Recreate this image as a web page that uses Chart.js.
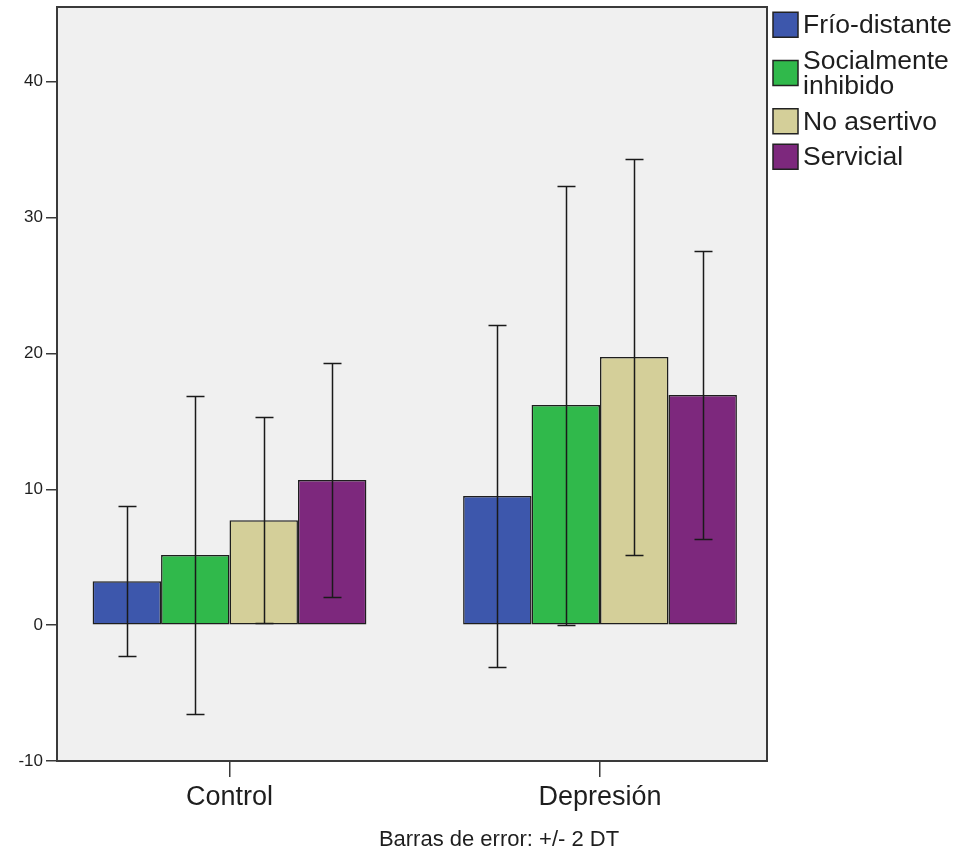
<!DOCTYPE html>
<html>
<head>
<meta charset="utf-8">
<script src="https://cdn.jsdelivr.net/npm/chart.js@4.4.1/dist/chart.umd.min.js"></script>
<style>
  html, body { margin: 0; padding: 0; background: #fff; }
  #wrap { width: 969px; height: 853px; }
</style>
</head>
<body>
<div id="wrap"><canvas id="chart"></canvas></div>
<script>
// groups on the x axis
const groups = ["Control", "Depresión"];

// group means per style
const frioDistante = [3.24, 9.5];
const socialmenteInhibido = [5.16, 16.2];
const noAsertivo = [7.73, 19.74];
const servicial = [10.68, 16.94];

// error bar half widths (2 DT)
const frioDistanteErr = [5.52, 12.6];
const socialmenteInhibidoErr = [11.72, 16.16];
const noAsertivoErr = [7.58, 14.6];
const servicialErr = [8.62, 10.6];

const yTicks = [-10, 0, 10, 20, 30, 40];

const series = [
  { label: "Frío-distante", lines: ["Frío-distante"], data: frioDistante, err: frioDistanteErr, color: "#3D57AC" },
  { label: "Socialmente inhibido", lines: ["Socialmente", "inhibido"], data: socialmenteInhibido, err: socialmenteInhibidoErr, color: "#30B94B" },
  { label: "No asertivo", lines: ["No asertivo"], data: noAsertivo, err: noAsertivoErr, color: "#D4CF99" },
  { label: "Servicial", lines: ["Servicial"], data: servicial, err: servicialErr, color: "#7D287D" },
];

const FONT = "'Liberation Sans', Arial, sans-serif";

// grey plot panel behind the bars, frame on top
const panel = {
  id: "panel",
  beforeDatasetsDraw(chart) {
    const { ctx, chartArea: a } = chart;
    ctx.save();
    ctx.fillStyle = "#F0F0F0";
    ctx.fillRect(a.left, a.top, a.right - a.left, a.bottom - a.top);
    ctx.restore();
  },
  afterDraw(chart) {
    const { ctx, chartArea: a } = chart;
    ctx.save();
    ctx.strokeStyle = "#3A3A3A";
    ctx.lineWidth = 2;
    ctx.strokeRect(a.left, a.top, a.right - a.left, a.bottom - a.top);
    ctx.restore();
  }
};

// +/- 2 DT whiskers
const errorBars = {
  id: "errorBars",
  afterDatasetsDraw(chart) {
    const { ctx } = chart;
    const y = chart.scales.y;
    ctx.save();
    ctx.strokeStyle = "#1A1A1A";
    ctx.lineWidth = 1.5;
    chart.data.datasets.forEach((ds, i) => {
      chart.getDatasetMeta(i).data.forEach((bar, j) => {
        const m = ds.data[j].y;
        const e = ds.err[j];
        const top = Math.round(y.getPixelForValue(m + e)) + 0.5;
        const bot = Math.round(y.getPixelForValue(m - e)) + 0.5;
        const x = Math.round(bar.x) + 0.5;
        ctx.beginPath();
        ctx.moveTo(x, top); ctx.lineTo(x, bot);
        ctx.moveTo(x - 9, top); ctx.lineTo(x + 9, top);
        ctx.moveTo(x - 9, bot); ctx.lineTo(x + 9, bot);
        ctx.stroke();
      });
    });
    ctx.restore();
  }
};

// legend to the right of the panel, with a wrapped label
const sideLegend = {
  id: "sideLegend",
  afterDraw(chart) {
    const { ctx, chartArea: a } = chart;
    const lineH = 25.5, gap = 10, box = 25;
    let top = 12;
    ctx.save();
    ctx.font = "26.5px " + FONT;
    ctx.textBaseline = "middle";
    series.forEach((s) => {
      const h = s.lines.length * lineH;
      const by = top + h / 2 - box / 2;
      ctx.fillStyle = s.color;
      ctx.fillRect(a.right + 6, by, box, box);
      ctx.strokeStyle = "#222";
      ctx.lineWidth = 1.5;
      ctx.strokeRect(a.right + 6, by, box, box);
      ctx.fillStyle = "#1E1E1E";
      s.lines.forEach((t, k) => {
        ctx.fillText(t, a.right + 36, top + lineH * (k + 0.5) + 1);
      });
      top += h + gap;
    });
    // footnote under the axis
    ctx.font = "22px " + FONT;
    ctx.textAlign = "center";
    ctx.textBaseline = "alphabetic";
    ctx.fillText("Barras de error: +/- 2 DT", 499, 846);
    ctx.restore();
  }
};

new Chart(document.getElementById("chart"), {
  type: "bar",
  data: {
    datasets: series.map((s) => ({
      label: s.label,
      data: s.data.map((v, j) => ({ x: j, y: v })),
      err: s.err,
      backgroundColor: s.color,
      borderColor: "#1E1E1E",
      borderWidth: 1.5,
      borderSkipped: false,
      categoryPercentage: 0.739,
      barPercentage: 1,
    })),
  },
  options: {
    responsive: true,
    maintainAspectRatio: false,
    animation: false,
    layout: { padding: { top: 7, right: 202, left: 0, bottom: 0 } },
    plugins: {
      legend: { display: false },
      tooltip: { enabled: false },
    },
    scales: {
      x: {
        type: "linear",
        offset: false,
        min: -0.4656,
        max: 1.4507,
        afterBuildTicks: (scale) => {
          scale.ticks = groups.map((g, i) => ({ value: i }));
        },
        afterFit: (scale) => {
          scale.height = 92;
          scale.paddingLeft = 0;
          scale.paddingRight = 0;
        },
        border: { display: false },
        grid: { offset: false, drawOnChartArea: false, drawTicks: true, tickLength: 16, tickColor: "#3A3A3A", lineWidth: 1.5 },
        ticks: {
          callback: (v) => groups[v],
          autoSkip: false,
          maxRotation: 0,
          padding: 4,
          color: "#1E1E1E",
          font: { family: FONT, size: 27 },
        },
      },
      y: {
        min: -10,
        max: 45.5,
        afterBuildTicks: (scale) => {
          scale.ticks = yTicks.map((v) => ({ value: v }));
        },
        afterFit: (scale) => {
          scale.width = 57;
          scale.paddingTop = 0;
          scale.paddingBottom = 0;
        },
        border: { display: false },
        grid: { drawOnChartArea: false, drawTicks: true, tickLength: 11, tickColor: "#3A3A3A", lineWidth: 1.5 },
        ticks: {
          padding: 3,
          color: "#1E1E1E",
          font: { family: FONT, size: 17 },
        },
      },
    },
  },
  plugins: [panel, errorBars, sideLegend],
});
</script>
</body>
</html>
